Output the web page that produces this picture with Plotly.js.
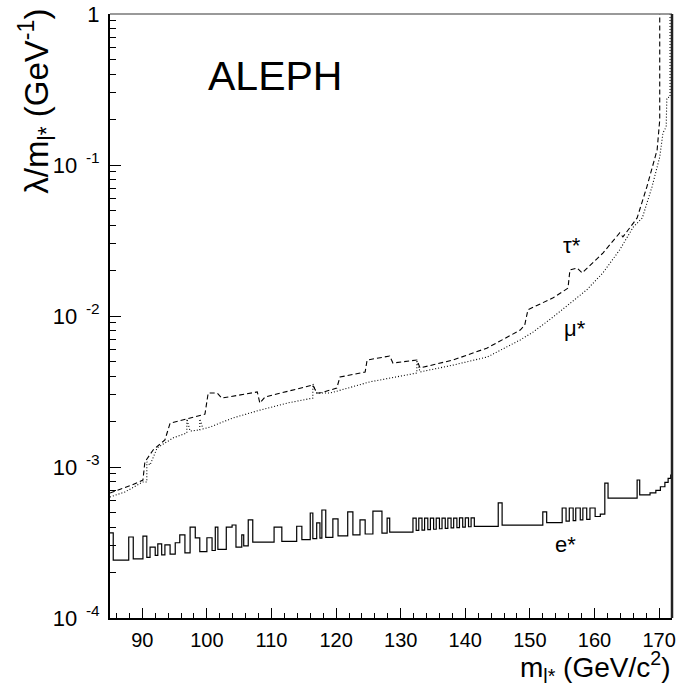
<!DOCTYPE html>
<html>
<head>
<meta charset="utf-8">
<script src="https://cdn.plot.ly/plotly-3.0.1.min.js"></script>
<style>html,body{margin:0;padding:0;background:#fff;}#plot{width:677px;height:686px;}</style>
</head>
<body>
<div id="plot"></div>
<script>
// e* limit (step curve: value holds from each mass edge to the next)
const eMass = [85.0, 85.5, 87.9, 88.6, 90.1, 90.7, 91.2, 92.0, 92.4, 93.0, 93.5, 94.3, 95.1, 95.8, 96.6, 97.4, 98.2, 98.9,
  100.0, 100.8, 101.3, 101.7, 103.0, 103.9, 104.5, 105.4, 105.7, 106.4, 107.1, 110.4, 111.6, 113.9, 114.7,
  116.0, 116.4, 117.0, 117.5, 117.8, 118.4, 119.5, 120.3, 121.8, 122.6, 123.7, 124.5, 125.7, 127.1, 127.9, 128.3,
  131.9, 132.4, 132.8, 133.3, 133.7, 134.2, 134.6, 135.1, 135.5, 136.0, 136.4, 136.9, 137.3, 137.8, 138.2, 138.7,
  139.1, 139.6, 140.0, 140.5, 140.9, 141.4, 145.1, 145.7, 152.0, 152.6,
  155.0, 155.6, 156.1, 156.7, 157.1, 157.8, 158.2, 158.8, 159.3, 160.1, 160.9, 161.6, 162.1, 166.6, 167.0,
  168.6, 169.5, 170.2, 170.9, 171.4, 171.8, 172.0];
const eLimit = [3.66e-4, 2.42e-4, 3.44e-4, 2.46e-4, 3.49e-4, 2.52e-4, 2.95e-4, 2.6e-4, 3.1e-4, 2.62e-4, 3.05e-4, 2.65e-4, 3.15e-4, 3.55e-4, 2.7e-4, 4.0e-4, 3.39e-4, 2.75e-4,
  3.4e-4, 2.8e-4, 4.0e-4, 2.85e-4, 4.0e-4, 4.13e-4, 2.95e-4, 3.55e-4, 3.0e-4, 4.46e-4, 3.18e-4, 4.0e-4, 3.22e-4, 4.05e-4, 3.3e-4,
  4.96e-4, 3.35e-4, 4.26e-4, 3.38e-4, 5.19e-4, 3.42e-4, 4.53e-4, 3.5e-4, 5.04e-4, 3.55e-4, 4.46e-4, 3.6e-4, 5.11e-4, 3.65e-4, 4.59e-4, 3.7e-4,
  4.59e-4, 3.8e-4, 4.59e-4, 3.82e-4, 4.59e-4, 3.85e-4, 4.59e-4, 3.87e-4, 4.59e-4, 3.9e-4, 4.59e-4, 3.92e-4, 4.59e-4, 3.95e-4, 4.59e-4, 3.97e-4,
  4.6e-4, 4.0e-4, 4.6e-4, 4.02e-4, 4.6e-4, 4.04e-4, 5.78e-4, 4.12e-4, 5.04e-4, 4.28e-4,
  5.35e-4, 4.38e-4, 5.35e-4, 4.42e-4, 5.35e-4, 4.46e-4, 5.35e-4, 4.5e-4, 5.35e-4, 4.7e-4, 4.88e-4, 7.83e-4, 6.23e-4, 8.2e-4, 6.53e-4,
  6.73e-4, 7.0e-4, 7.4e-4, 7.9e-4, 8.4e-4, 8.85e-4, 8.85e-4];

// mu* limit (dotted)
const muMass = [85.0, 87.3, 90.1, 90.7, 90.7, 91.2, 92.3, 93.5, 94.8, 96.9, 96.9, 97.4, 98.9, 98.9, 99.4, 100.5, 104.0, 108.2, 112.4,
  116.4, 116.4, 117.0, 119.1, 125.2, 132.5, 132.5, 133.0, 138.1, 143.4, 148.5, 150.5, 153.6, 158.8, 161.3, 163.9, 166.0, 167.4,
  168.9, 170.1, 170.6, 171.1, 171.2, 171.7, 171.7];
const muLimit = [6.33e-4, 6.83e-4, 7.96e-4, 7.96e-4, 1.08e-3, 1.03e-3, 1.34e-3, 1.44e-3, 1.56e-3, 1.68e-3, 2.08e-3, 1.73e-3, 1.76e-3, 2.08e-3, 1.79e-3, 1.84e-3, 2.11e-3, 2.38e-3, 2.65e-3,
  2.86e-3, 3.55e-3, 3.09e-3, 3.09e-3, 3.66e-3, 4.19e-3, 5.11e-3, 4.26e-3, 4.73e-3, 5.35e-3, 6.94e-3, 7.83e-3, 9.85e-3, 1.49e-2, 1.93e-2, 2.74e-2, 3.88e-2, 4.46e-2,
  7.15e-2, 0.113, 0.163, 0.179, 0.278, 0.282, 1.02];

// tau* limit (dashed)
const tauMass = [85.0, 88.4, 90.1, 90.4, 91.7, 93.5, 94.3, 96.9, 98.9, 99.7, 100.2, 101.6, 102.3, 107.8, 108.2, 109.0, 116.4, 117.0, 117.5,
  120.1, 120.6, 124.5, 124.8, 128.3, 128.8, 132.5, 133.0, 138.1, 143.4, 148.5, 149.2, 149.7, 153.6, 155.9, 156.2, 157.3, 158.1,
  161.3, 163.9, 164.4, 166.6, 168.1, 169.7, 170.1, 170.1];
const tauLimit = [6.73e-4, 7.6e-4, 8.2e-4, 1.08e-3, 1.30e-3, 1.51e-3, 1.95e-3, 2.08e-3, 2.18e-3, 2.24e-3, 3.09e-3, 3.09e-3, 2.86e-3, 3.14e-3, 2.65e-3, 2.91e-3, 3.49e-3, 3.09e-3, 3.09e-3,
  3.33e-3, 3.94e-3, 4.26e-3, 5.11e-3, 5.43e-3, 4.88e-3, 5.11e-3, 4.53e-3, 5.11e-3, 6.14e-3, 8.07e-3, 8.71e-3, 1.10e-2, 1.32e-2, 1.53e-2, 2.02e-2, 2.08e-2, 1.93e-2,
  2.61e-2, 3.55e-2, 3.34e-2, 4.46e-2, 7.15e-2, 0.126, 0.199, 1.02];

const xTicks = [90, 100, 110, 120, 130, 140, 150, 160, 170];
const yTicks = [1e-4, 1e-3, 1e-2, 1e-1, 1];
const yTickText = ['10<sup>  -4</sup>', '10<sup>  -3</sup>', '10<sup>  -2</sup>', '10<sup>  -1</sup>', '1'];

const FONT = 'Liberation Sans, Arial, Helvetica, sans-serif';

const traces = [
  {x: eMass, y: eLimit, mode: 'lines', line: {color: '#000', width: 1.2, shape: 'hv'}, name: 'e*'},
  {x: muMass, y: muLimit, mode: 'lines', line: {color: '#000', width: 1.1, dash: '1px,2px'}, name: 'mu*'},
  {x: tauMass, y: tauLimit, mode: 'lines', line: {color: '#000', width: 1.1, dash: '5px,3px'}, name: 'tau*'}
];

const layout = {
  width: 677, height: 686,
  margin: {l: 110, r: 5, t: 14, b: 68, pad: 0},
  paper_bgcolor: '#fff', plot_bgcolor: '#fff',
  showlegend: false,
  font: {family: FONT, color: '#000', size: 20},
  xaxis: {
    range: [85, 172], tickmode: 'array', tickvals: xTicks, ticktext: xTicks.map(String),
    ticks: 'inside', ticklen: 10, tickwidth: 1, tickcolor: '#000',
    showline: true, linewidth: 2, linecolor: '#000', mirror: false,
    showgrid: false, zeroline: false, ticklabelstandoff: 3,
    tickfont: {family: FONT, size: 20, color: '#000'},
    minor: {dtick: 2, tick0: 0, ticks: 'inside', ticklen: 5, tickwidth: 1, tickcolor: '#000', showgrid: false}
  },
  yaxis: {
    type: 'log', range: [-4, 0], tickmode: 'array', tickvals: yTicks, ticktext: yTickText,
    ticks: 'inside', ticklen: 11, tickwidth: 1, tickcolor: '#000',
    showline: true, linewidth: 2, linecolor: '#000', mirror: false,
    showgrid: false, zeroline: false, ticklabelstandoff: 4,
    tickfont: {family: FONT, size: 22, color: '#000'},
    minor: {dtick: 'D1', ticks: 'inside', ticklen: 6, tickwidth: 1, tickcolor: '#000', showgrid: false}
  },
  shapes: [
    {type: 'line', xref: 'paper', yref: 'paper', x0: 0, x1: 1, y0: 1, y1: 1, line: {color: '#777', width: 1.5}},
    {type: 'line', xref: 'paper', yref: 'paper', x0: 1, x1: 1, y0: 0, y1: 1, line: {color: '#222', width: 2.5}}
  ],
  annotations: [
    {text: 'ALEPH', xref: 'paper', yref: 'paper', x: 0.293, y: 0.897, xanchor: 'center', yanchor: 'middle',
     showarrow: false, font: {family: FONT, size: 41, color: '#000'}},
    {text: 'τ*', xref: 'paper', yref: 'paper', x: 0.822, y: 0.6175, xanchor: 'center', yanchor: 'middle',
     showarrow: false, font: {family: FONT, size: 22, color: '#000'}},
    {text: 'μ*', xref: 'paper', yref: 'paper', x: 0.827, y: 0.4785, xanchor: 'center', yanchor: 'middle',
     showarrow: false, font: {family: FONT, size: 22, color: '#000'}},
    {text: 'e*', xref: 'paper', yref: 'paper', x: 0.811, y: 0.121, xanchor: 'center', yanchor: 'middle',
     showarrow: false, font: {family: FONT, size: 22, color: '#000'}},
    {text: 'λ/m<sub>l*</sub> (GeV<sup>-1</sup>)', xref: 'paper', yref: 'paper', x: -0.131, y: 1.012,
     xanchor: 'center', yanchor: 'top', textangle: -90,
     showarrow: false, font: {family: FONT, size: 33, color: '#000'}},
    {text: 'm<sub>l*</sub> (GeV/c<sup>2</sup>)', xref: 'paper', yref: 'paper', x: 1.0, y: -0.081,
     xanchor: 'right', yanchor: 'middle',
     showarrow: false, font: {family: FONT, size: 28, color: '#000'}}
  ]
};

Plotly.newPlot('plot', traces, layout, {staticPlot: true, displayModeBar: false});
</script>
</body>
</html>
